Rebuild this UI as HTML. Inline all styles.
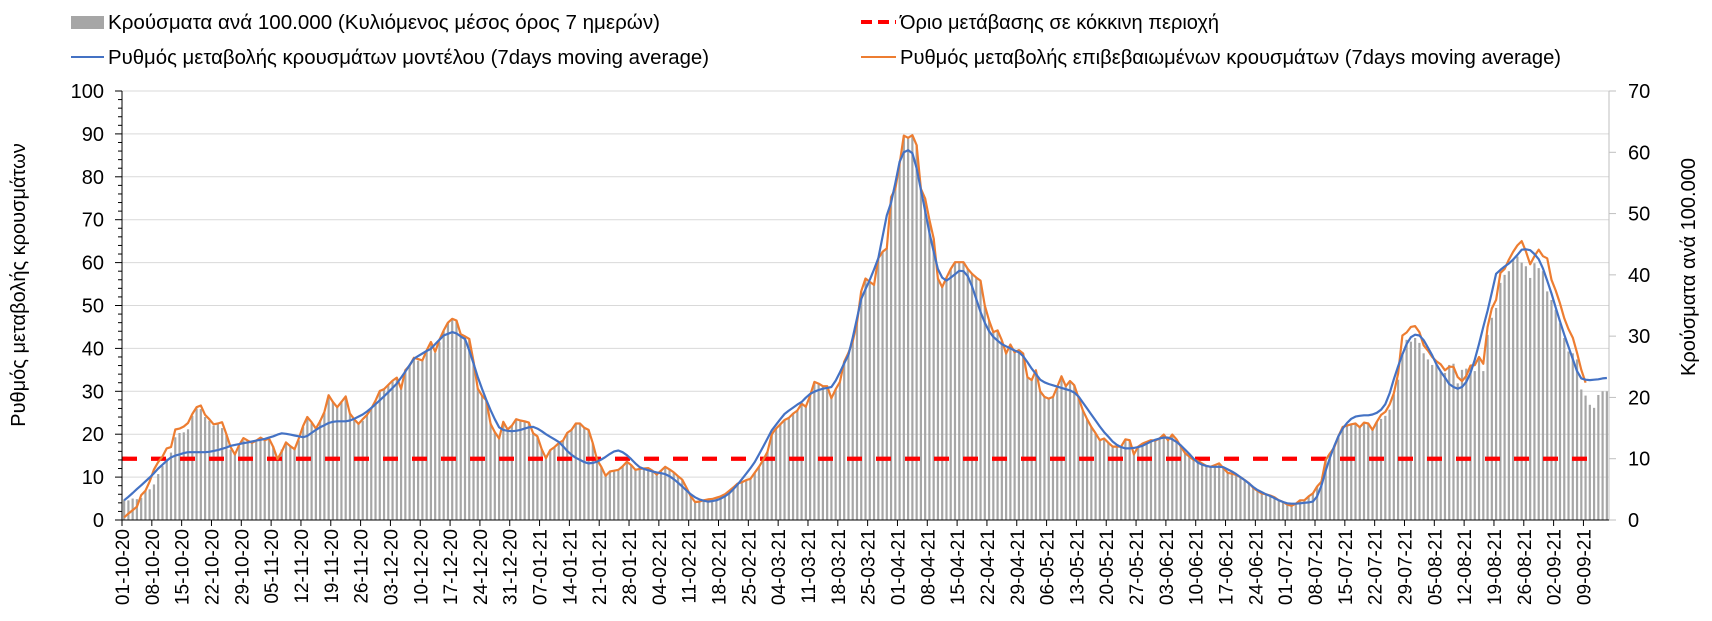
<!DOCTYPE html>
<html><head><meta charset="utf-8"><style>
html,body{margin:0;padding:0;background:#fff;}
svg{display:block;font-family:"Liberation Sans",Arial,sans-serif;}
</style></head><body>
<svg id="chart" width="1712" height="621" viewBox="0 0 1712 621" xmlns="http://www.w3.org/2000/svg">
<g font-size="20" fill="#000">
 <rect x="71" y="16" width="33" height="13" fill="#a6a6a6"/>
 <text x="108" y="29" textLength="552" lengthAdjust="spacingAndGlyphs">Κρούσματα ανά 100.000 (Κυλιόμενος μέσος όρος 7 ημερών)</text>
 <line x1="71" y1="57" x2="104" y2="57" stroke="#4472c4" stroke-width="2"/>
 <text x="108" y="64" textLength="601" lengthAdjust="spacingAndGlyphs">Ρυθμός μεταβολής κρουσμάτων μοντέλου (7days moving average)</text>
 <line x1="861" y1="22" x2="896" y2="22" stroke="#ff0000" stroke-width="4" stroke-dasharray="11,6"/>
 <text x="900" y="29" textLength="319" lengthAdjust="spacingAndGlyphs">Όριο μετάβασης σε κόκκινη περιοχή</text>
 <line x1="861" y1="57" x2="896" y2="57" stroke="#ed7d31" stroke-width="2"/>
 <text x="900" y="64" textLength="661" lengthAdjust="spacingAndGlyphs">Ρυθμός μεταβολής επιβεβαιωμένων κρουσμάτων (7days moving average)</text>
</g>
<text font-size="20" text-anchor="middle" transform="translate(25,285) rotate(-90)">Ρυθμός μεταβολής κρουσμάτων</text>
<text font-size="20" text-anchor="middle" transform="translate(1695,267) rotate(-90)">Κρούσματα ανά 100.000</text>
<g id="grid"></g><g id="bars"></g><g id="lines"></g><g id="axes"></g>
</svg>
<script>
const startDate = [2020, 10, 1];
const blueRate = [4.6,5.4,6.3,7.2,8.1,9,9.9,10.9,12,12.9,
13.8,14.6,15,15.3,15.6,15.8,15.8,15.8,15.8,15.8,
15.9,16.1,16.3,16.6,16.9,17.3,17.5,17.7,17.9,18.1,
18.3,18.5,18.7,18.9,19.2,19.5,19.9,20.2,20.1,19.9,
19.7,19.5,19.3,19.6,20.3,21,21.6,22.1,22.6,22.9,
23,23,23,23.2,23.6,24.1,24.6,25.3,26.1,27,
27.9,28.8,29.8,30.8,31.8,33.2,34.6,36.1,37.6,38.2,
38.8,39.4,39.9,41,42,43,43.4,43.8,43.5,42.8,
42.2,39.5,36.5,33.3,30.6,28,25.6,23.5,21.6,21,
20.8,20.7,20.8,21,21.3,21.6,21.7,21.3,20.7,20,
19.4,18.8,18.2,17.2,16.1,15.2,14.5,14,13.5,13.2,
13.3,13.6,14.1,14.7,15.4,16,16.2,15.8,15.1,14.2,
13.2,12.3,11.9,11.6,11.3,11.1,10.9,10.7,10.2,9.5,
8.7,7.8,6.9,6,5.3,4.8,4.5,4.3,4.4,4.6,
5,5.5,6.2,7.2,8.3,9.5,10.8,12.1,13.5,15.3,
17.1,19,20.9,22.2,23.5,24.7,25.5,26.2,26.9,27.5,
28.5,29.4,29.9,30.3,30.6,30.8,31,32.5,34.4,36.5,
38.5,42.5,47,51.5,53.8,56,58.4,61,66,71,
74,78.5,83.5,85.7,86.2,85.5,82,77,72,67,
62.5,58.5,56.5,55.8,56.5,57.3,58.1,58,56.8,54.5,
51.5,48.5,46,44,42.7,41.8,41,40.5,40,39.5,
39.1,38.2,36.8,35.3,34,32.7,32.1,31.7,31.4,31.1,
30.8,30.5,30.2,29.7,28.8,27.4,26,24.6,23.2,21.8,
20.5,19.4,18.3,17.5,17,16.7,16.7,16.8,17,17.3,
17.8,18.3,18.7,19,19.2,19.2,18.8,18.2,17.4,16.4,
15.4,14.3,13.4,12.9,12.6,12.4,12.4,12.4,12.3,11.8,
11.3,10.7,10,9.3,8.5,7.7,7,6.5,6,5.6,
5.1,4.6,4.2,3.9,3.8,3.8,3.9,4,4.1,4.3,
5.5,8,11.5,14.5,17.2,19.5,21.3,22.6,23.6,24.1,
24.3,24.4,24.4,24.6,25,25.7,27,29.5,32.8,35.8,
38.6,41,42.6,43.2,43,41.9,40.2,38.4,36.3,34.6,
33.2,31.7,31,30.6,31,32.2,34.3,37.4,41,45,
48.8,53,57.4,58.3,59.1,59.8,60.7,61.8,63,63.1,
62.9,62,60.8,58.6,55.8,52.8,49.5,46.3,43.2,40.4,
37.5,34.7,33,32.7,32.6,32.7,32.8,33,33.1];
const orangeRate = [0.6,1.5,2.3,3.1,5.8,6.8,9,11.8,13.5,14.8,
16.7,17,21.1,21.3,21.8,22.6,24.7,26.3,26.7,24.5,
23.5,22.3,22.5,22.8,20,17,15.3,17.5,19.1,18.5,
18,18.5,19.2,18.6,19,17,14.2,16,18.1,17.2,
16.5,19,21.9,24,22.8,21.3,23,25.2,29.1,27.5,
26.3,27.5,28.8,24.8,23.5,22.4,23.5,24.5,26,27.8,
30.1,30.5,31.5,32.5,33.2,30.6,34.9,36,37.8,37.5,
37.2,39.5,41.5,39.2,42,44.2,46,46.9,46.5,43.3,
42.8,42.2,37,30.6,29,27.9,22.4,20.5,19,22.9,
21.1,22,23.5,23.2,23,22.7,20.2,19.5,16.5,14.4,
16.3,17,17.9,18.5,20.3,21,22.5,22.5,21.5,21,
17.9,14,12.4,10.3,11.3,11.5,11.7,12.5,13.6,12.8,
11.7,11.9,12,12.1,11.5,10.6,11.5,12.4,11.8,11.1,
10.2,9.4,7.5,5.5,4.2,4.3,4.6,4.8,4.9,5.2,
5.5,6,6.8,7.6,8.5,8.8,9.3,9.6,11,12.4,
14,15.9,20,21.3,22.3,23.3,23.8,24.8,25.5,27.1,
26.4,29,32.2,31.8,31.2,31.2,28.4,30.5,32.2,36.9,
39,41.6,46,53.3,56.3,55.5,54.8,61,62.5,63.3,
75.3,77.2,83,89.6,89.1,89.7,87.4,77.2,74.9,70,
65.6,56.3,54.3,56.5,58.5,60.1,60.1,60.1,58.5,57.4,
56.5,55.8,50,46.5,43.8,44.2,41.9,38.8,40.9,39.1,
39.6,38.8,33.3,32.6,34.9,30,28.7,28.3,28.7,31,
33.5,31.2,32.4,31.4,28.5,25.6,23.5,21.7,20.2,18.6,
19,18,17.1,17.1,17.1,18.8,18.6,15.3,17.1,17.8,
18.2,18.6,18.5,19,19.9,18.6,19.9,18.8,17.1,15.6,
14.8,14,13.8,13.2,12.6,12.4,12.8,13.2,12.1,11,
10.8,10.5,10,9.3,8.6,7.5,6.8,6.2,6,5.7,
5.3,4.6,4.2,3.6,3.3,3.8,4.6,4.6,5.5,6.2,
7.8,8.9,14,15.5,16.9,19.5,21.7,22,22.3,22.5,
21.6,22.7,22.5,21,22.9,24.5,25.2,26.9,29.5,34.1,
43,43.7,45,45.2,43.8,40.7,39.5,38,37,36.3,
34.9,35.7,35.7,33.3,32.4,33.6,36,36.1,38,36.4,
45,49.3,51.3,57.6,58.5,60.7,62.5,64,65,62.6,
59.6,61.5,63,61.5,61,56,53.5,50.5,47,44.5,
42.5,39,35,32];
const casesPer100k = [3.3,3.2,3.5,3.4,3.6,4.8,5.0,5.8,7.5,8.8,
10,11,13.5,14.2,14.3,14.8,17,18.2,18.1,16.8,
16.2,15.4,15.8,15,14,11.5,10.8,12,13,12.9,
12.5,12.8,13.3,12.9,13.2,12,10,11.5,12.6,12,
11.5,13,15.2,16.5,15.8,15,16.3,17.5,20,19.2,
18.5,19.2,20,17.3,16.4,15.7,16.2,17.2,18.4,19.3,
21,21.3,22,22.6,23.2,21.4,24.3,25.2,26.3,26,
26,27.5,29,27.3,29,30.8,32.2,32.8,32.5,30.2,
29.8,29.4,25.8,21.5,20.3,19.5,15.8,14.4,13.4,16,
14.8,15.4,16.4,16.2,16.2,15.9,14.2,13.6,11.6,10.1,
11.4,11.9,12.5,13,14.2,14.7,15.7,15.7,15,14.7,
12.5,9.8,8.7,7.2,7.9,8,8.2,8.7,9.5,9,
8.2,8.3,8.4,8.5,8,7.4,8,8.7,8.3,7.8,
7.1,6.6,5.2,3.9,2.9,3,3.2,3.4,3.4,3.6,
3.9,4.2,4.8,5.3,5.9,6.2,6.5,6.7,7.7,8.7,
9.8,11.1,14,14.9,15.6,16.3,16.7,17.4,17.8,19,
18.5,20.3,22.5,22.3,21.8,21.8,19.9,21.4,22.5,25.8,
27.3,29.1,32.2,37.3,39.4,38.8,38.4,42.7,43.7,44.3,
52.7,54,58,62.7,62.4,62.8,61.2,54,52.4,49,
45.9,39.4,38,39.5,41,42.1,42.1,42.1,41,40.2,
39.5,39,35,32.5,30.7,31,29.3,27.2,28.6,27.4,
27.7,27.2,23.3,22.8,24.4,21,20.1,19.8,20.1,21.7,
23.4,21.8,22.7,22,20,17.9,16.4,15.2,14.1,13,
13.3,12.6,12,12,12,13.2,13,10.7,12,12.5,
12.7,13,13,13.3,13.9,13,13.9,13.2,12,10.9,
10.4,9.8,9.7,9.2,8.8,8.7,9,9.2,8.5,7.7,
7.6,7.4,7,6.5,6,5.3,4.8,4.3,4.2,4,
3.7,3.2,2.9,2.5,2.3,2.7,3.2,3.2,3.9,4.3,
5.5,6.2,9.8,10.9,11.8,13.7,15.2,15.4,15.6,15.8,
15.1,15.9,15.8,14.7,16,16.5,17,18,20.5,22.9,
27,29.4,29.1,29.7,28.9,27.2,26.2,25.3,25.3,24.3,
24,25.3,25.5,22.3,24.5,24.7,25,24.3,26.4,24.3,
30.2,33,34.6,38.7,40,40.6,42.5,43,42,41.4,
39.5,41.9,41.1,40.6,37.3,35.9,34.3,32.1,29.7,27.5,
27.2,26.2,21.3,20.3,18.8,18.3,20.4,21,21];
const thresholdCases = 10;
const leftTicks = [0,10,20,30,40,50,60,70,80,90,100];
const rightTicks = [0,10,20,30,40,50,60,70];

const NS = "http://www.w3.org/2000/svg";
const X0 = 122, X1 = 1609, Y0 = 520, YT = 91;
const N = casesPer100k.length;
const cw = (X1 - X0) / N;
const xC = i => X0 + (i + 0.5) * cw;
const xB = i => X0 + i * cw;
const yL = v => Y0 - v / 100 * (Y0 - YT);
const yR = v => Y0 - v / 70 * (Y0 - YT);
function mk(tag, attrs, parent) {
  const e = document.createElementNS(NS, tag);
  for (const k in attrs) e.setAttribute(k, attrs[k]);
  parent.appendChild(e);
  return e;
}
const grid = document.getElementById('grid'), bars = document.getElementById('bars'),
      lines = document.getElementById('lines'), axes = document.getElementById('axes');

leftTicks.forEach(t => {
  if (t === 0) return;
  const g = mk('line', {x1: X0, x2: X1, y1: yL(t), y2: yL(t), stroke: '#d9d9d9', 'stroke-width': 1}, grid);
  
  
});

casesPer100k.forEach((v, i) => {
  const r = mk('rect', {x: xC(i) - 1.1, y: yR(v), width: 2.2, height: Y0 - yR(v), fill: '#a6a6a6'}, bars);
  
  
});

const th = mk('line', {x1: X0, x2: 1594, y1: yR(thresholdCases), y2: yR(thresholdCases), stroke: '#ff0000', 'stroke-width': 4.3, 'stroke-dasharray': '15,14'}, lines);



function poly(arr, color, name) {
  const pts = arr.map((v, i) => xC(i).toFixed(1) + ',' + yL(v).toFixed(1)).join(' ');
  const p = mk('polyline', {points: pts, fill: 'none', stroke: color, 'stroke-width': 2.2, 'stroke-linejoin': 'round'}, lines);
  
  
}
poly(orangeRate, '#ed7d31', 'confirmed-rate-line');
poly(blueRate, '#4472c4', 'model-rate-line');

const la = mk('line', {x1: X0, x2: X0, y1: YT, y2: Y0, stroke: '#000', 'stroke-width': 1}, axes);


const ra = mk('line', {x1: X1, x2: X1, y1: YT, y2: Y0, stroke: '#bfbfbf', 'stroke-width': 1}, axes);


const ba = mk('line', {x1: X0, x2: X1, y1: Y0, y2: Y0, stroke: '#000', 'stroke-width': 1}, axes);



for (let v = 0; v <= 100; v += 2) {
  const major = v % 10 === 0;
  const tk = mk('line', {x1: major ? X0 - 7 : X0 - 4, x2: X0, y1: yL(v), y2: yL(v), stroke: '#000', 'stroke-width': 1}, axes);
  
  
}
leftTicks.forEach(t => {
  const tx = mk('text', {x: 104, y: yL(t) + 7, 'text-anchor': 'end', 'font-size': 20}, axes);
  tx.textContent = t;
  
  
});
rightTicks.forEach(t => {
  const tk = mk('line', {x1: X1, x2: X1 + 7, y1: yR(t), y2: yR(t), stroke: '#bfbfbf', 'stroke-width': 1}, axes);
  
  
  const tx = mk('text', {x: 1628, y: yR(t) + 7, 'font-size': 20}, axes);
  tx.textContent = t;
  
  
});
const pad = n => (n < 10 ? '0' : '') + n;
for (let i = 0; i < N; i += 7) {
  const d = new Date(Date.UTC(startDate[0], startDate[1] - 1, startDate[2] + i));
  const lbl = pad(d.getUTCDate()) + '-' + pad(d.getUTCMonth() + 1) + '-' + String(d.getUTCFullYear()).slice(2);
  const x = xB(i);
  const tk = mk('line', {x1: x, x2: x, y1: Y0, y2: Y0 + 6, stroke: '#000', 'stroke-width': 1}, axes);
  
  
  const tx = mk('text', {'font-size': 19, 'text-anchor': 'end', transform: 'translate(' + (x + 7).toFixed(1) + ',' + (Y0 + 9) + ') rotate(-90)'}, axes);
  tx.textContent = lbl;
  
  
}
</script>
</body></html>
